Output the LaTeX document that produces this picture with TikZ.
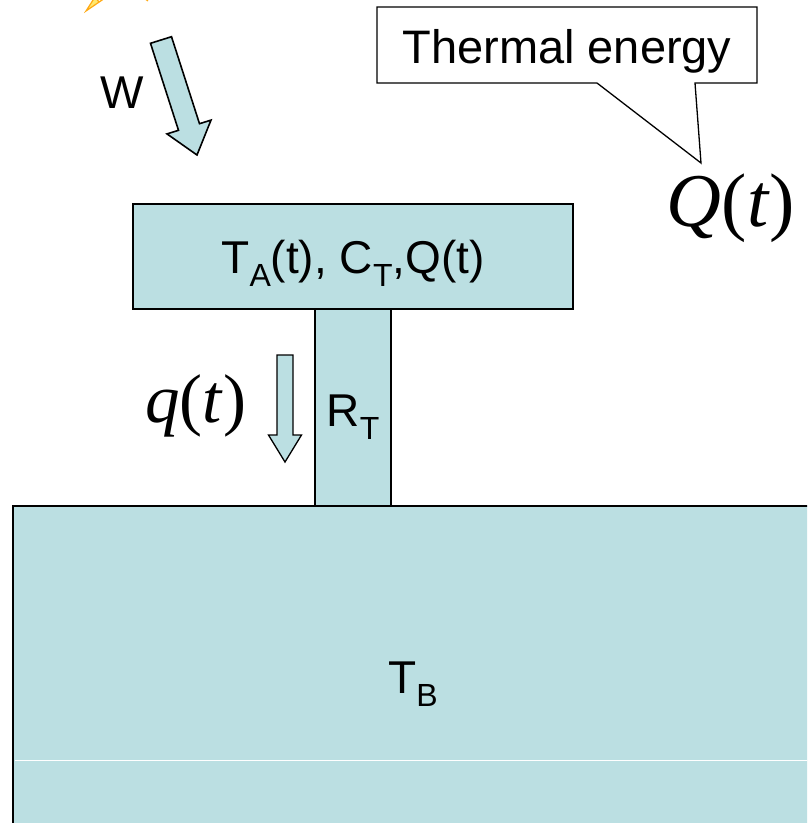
\documentclass[tikz,border=0pt]{standalone}
\usepackage{fontspec}
\setmainfont{Liberation Sans}
\newfontfamily\eqfont{Liberation Serif}
\usetikzlibrary{positioning}
\definecolor{lightteal}{RGB}{187,223,226}
\definecolor{boltorange}{RGB}{255,170,20}
\definecolor{boltyellow}{RGB}{255,232,110}
\newcommand{\subs}[1]{\raisebox{-0.3em}{\fontsize{32}{32}\selectfont #1}}
\newcommand{\eqvar}[1]{{\eqfont\itshape #1\/}{\eqfont(}{\eqfont\itshape t\/}{\eqfont)}}

\begin{document}
\begin{tikzpicture}[x=1pt,y=-1pt,
    block/.style={draw, line width=1.8pt, fill=lightteal, inner sep=0pt},
    hollowarrow/.style={draw, line width=1.6pt, fill=lightteal, line join=miter},
    txt/.style={font=\fontsize{46}{52}\selectfont, inner sep=0pt, anchor=base}]
    % Frame of the picture
    \clip (0,0) rectangle (807,823);
    % Lightning bolt (cut off at the top)
    \draw[boltorange, fill=boltyellow, line width=1.2pt] (86,11) -- (95,-3) -- (99,2) -- (108,-4) -- cycle;
    \draw[boltorange, line width=1.2pt] (144,-2) -- (148,1);
    % Blocks
    \node[block, minimum width=800pt, minimum height=348pt] (bath) at (413,680) {};
    \node[block, minimum width=440pt, minimum height=105pt] (blockA) at (353,256.5) {};
    \node[block, minimum width=76pt, minimum height=197pt] (resist) at (353,407.5) {};
    \draw[white, line width=1pt] (14.5,760) -- (807,760);
    % Block labels
    \node[txt] (talabel) at (353,273) {T\subs{A}(t), C\subs{T},Q(t)};
    \node[txt] (rlabel) at (353,426) {R\subs{T}};
    \node[txt] (tblabel) at (413,693) {T\subs{B}};
    % Work arrow
    \draw[hollowarrow] (150.5,43.3) -- (171.5,36.7) -- (199.5,123.7) -- (211,120.1)
        -- (197,155) -- (167,133.9) -- (178.5,130.3) -- cycle;
    \node[txt] (wlabel) at (122,108) {W};
    % Heat flow arrow
    \draw[hollowarrow, line width=1.3pt] (277,355) -- (293,355) -- (293,435) -- (301.5,435)
        -- (285,462) -- (268.5,435) -- (277,435) -- cycle;
    \node[anchor=base, inner sep=0pt, font=\fontsize{69}{69}\selectfont] (qflow) at (196,422) {\eqvar{q}};
    % Thermal energy callout
    \node[anchor=base, inner sep=0pt, font=\fontsize{76}{76}\selectfont] (qstore) at (731,226) {\eqvar{Q}};
    \node[txt, font=\fontsize{47}{52}\selectfont] (thermal) at (567,63) {Thermal energy};
    \coordinate (tip) at (701,163);
    \draw[line width=1.3pt] (377,7) -- (757,7) -- (757,83) -- (695,83) -- (tip) -- (597,83) -- (377,83) -- cycle;
\end{tikzpicture}
\end{document}
